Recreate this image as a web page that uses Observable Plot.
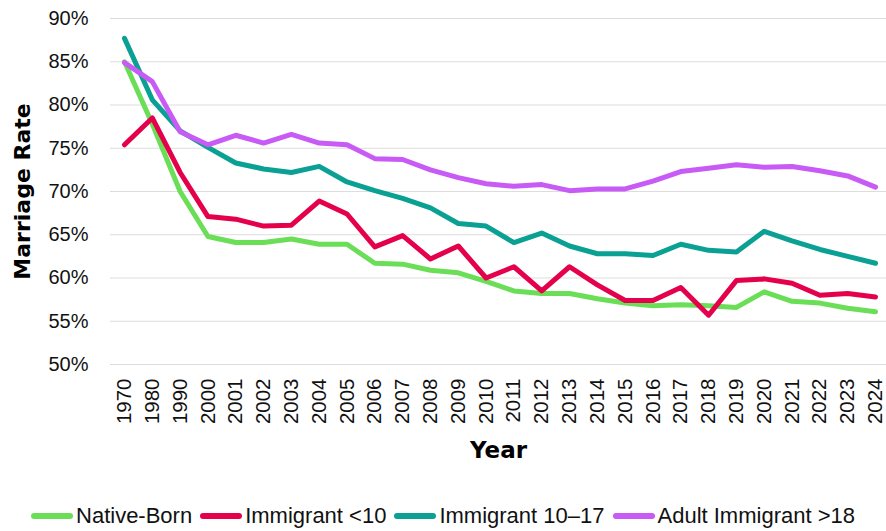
<!DOCTYPE html>
<html>
<head>
<meta charset="utf-8">
<script src="https://cdn.jsdelivr.net/npm/d3@7"></script>
<script src="https://cdn.jsdelivr.net/npm/@observablehq/plot@0.6"></script>
<style>
  html, body { margin: 0; padding: 0; background: #fff; overflow: hidden; }
  #chart { width: 886px; }
  .legend { display: flex; justify-content: center; align-items: center; height: 30px; padding-top: 6px;
    font-family: "Liberation Sans", Arial, sans-serif; font-size: 22px; color: #111; }
  .item { display: flex; align-items: center; margin: 0 4px; }
  .sw { width: 42px; height: 6px; border-radius: 3px; margin-right: 3px; }
</style>
</head>
<body>
<div id="chart"></div>
<script>
const years = ["1970","1980","1990","2000","2001","2002","2003","2004","2005","2006","2007","2008","2009","2010","2011","2012","2013","2014","2015","2016","2017","2018","2019","2020","2021","2022","2023","2024"];
const nativeBorn = [85.0,77.8,70.0,64.8,64.1,64.1,64.5,63.9,63.9,61.7,61.6,60.9,60.6,59.6,58.5,58.2,58.2,57.6,57.1,56.8,56.9,56.8,56.6,58.4,57.3,57.1,56.5,56.1];
const immUnder10 = [75.4,78.5,72.2,67.1,66.8,66.0,66.1,68.9,67.4,63.6,64.9,62.2,63.7,60.0,61.3,58.5,61.3,59.2,57.4,57.4,58.9,55.7,59.7,59.9,59.4,58.0,58.2,57.8];
const imm10to17 = [87.7,80.6,77.0,75.1,73.3,72.6,72.2,72.9,71.1,70.1,69.2,68.1,66.3,66.0,64.1,65.2,63.7,62.8,62.8,62.6,63.9,63.2,63.0,65.4,64.3,63.3,62.5,61.7];
const adultImm = [84.9,82.7,76.9,75.4,76.5,75.6,76.6,75.6,75.4,73.8,73.7,72.5,71.6,70.9,70.6,70.8,70.1,70.3,70.3,71.2,72.3,72.7,73.1,72.8,72.9,72.4,71.8,70.5];
const seriesNames = ["Native-Born","Immigrant <10","Immigrant 10–17","Adult Immigrant >18"];
const seriesColors = ["#6ade56","#e4004b","#0aa093","#c85af5"];
const yTicks = [50,55,60,65,70,75,80,85,90];

const allSeries = [nativeBorn, immUnder10, imm10to17, adultImm];
const data = [];
allSeries.forEach((vals, si) => vals.forEach((v, i) => data.push({year: years[i], value: v, series: seriesNames[si]})));

const font = '"Liberation Sans", Arial, sans-serif';
const titleFont = '"DejaVu Sans", sans-serif';
const chart = Plot.plot({
  width: 886,
  height: 495,
  marginLeft: 110,
  marginRight: 0,
  marginTop: 18,
  marginBottom: 131,
  style: { fontFamily: font, color: "#111", background: "#fff", overflow: "visible" },
  x: { type: "point", domain: years, range: [124, 875], padding: 0, round: false, label: null },
  y: { domain: [50, 90], label: null },
  color: { domain: seriesNames, range: seriesColors },
  marks: [
    Plot.ruleY(yTicks, { stroke: "#dddddd", strokeWidth: 1.2 }),
    Plot.axisY({ ticks: yTicks, tickFormat: d => d + "%", tickSize: 0, tickPadding: 22, fontSize: 20, label: null }),
    Plot.axisX({ tickRotate: -90, tickSize: 0, tickPadding: 14, fontSize: 20.5, label: null }),
    Plot.line(data, { x: "year", y: "value", z: "series", stroke: "series", strokeWidth: 5, strokeLinejoin: "round", strokeLinecap: "round" }),
    Plot.text(["Marriage Rate"], { frameAnchor: "left", textAnchor: "middle", dx: -88, rotate: -90, fontSize: 22, fontWeight: "bold", fontFamily: titleFont, fill: "#000" }),
    Plot.text(["Year"], { frameAnchor: "bottom", dy: 93, fontSize: 23, fontWeight: "bold", fontFamily: titleFont, fill: "#000" })
  ]
});
document.getElementById("chart").appendChild(chart);

const legend = document.createElement("div");
legend.className = "legend";
seriesNames.forEach((name, i) => {
  const item = document.createElement("div");
  item.className = "item";
  const sw = document.createElement("span");
  sw.className = "sw";
  sw.style.background = seriesColors[i];
  const label = document.createElement("span");
  label.textContent = name;
  item.appendChild(sw);
  item.appendChild(label);
  legend.appendChild(item);
});
document.getElementById("chart").appendChild(legend);
</script>
</body>
</html>
